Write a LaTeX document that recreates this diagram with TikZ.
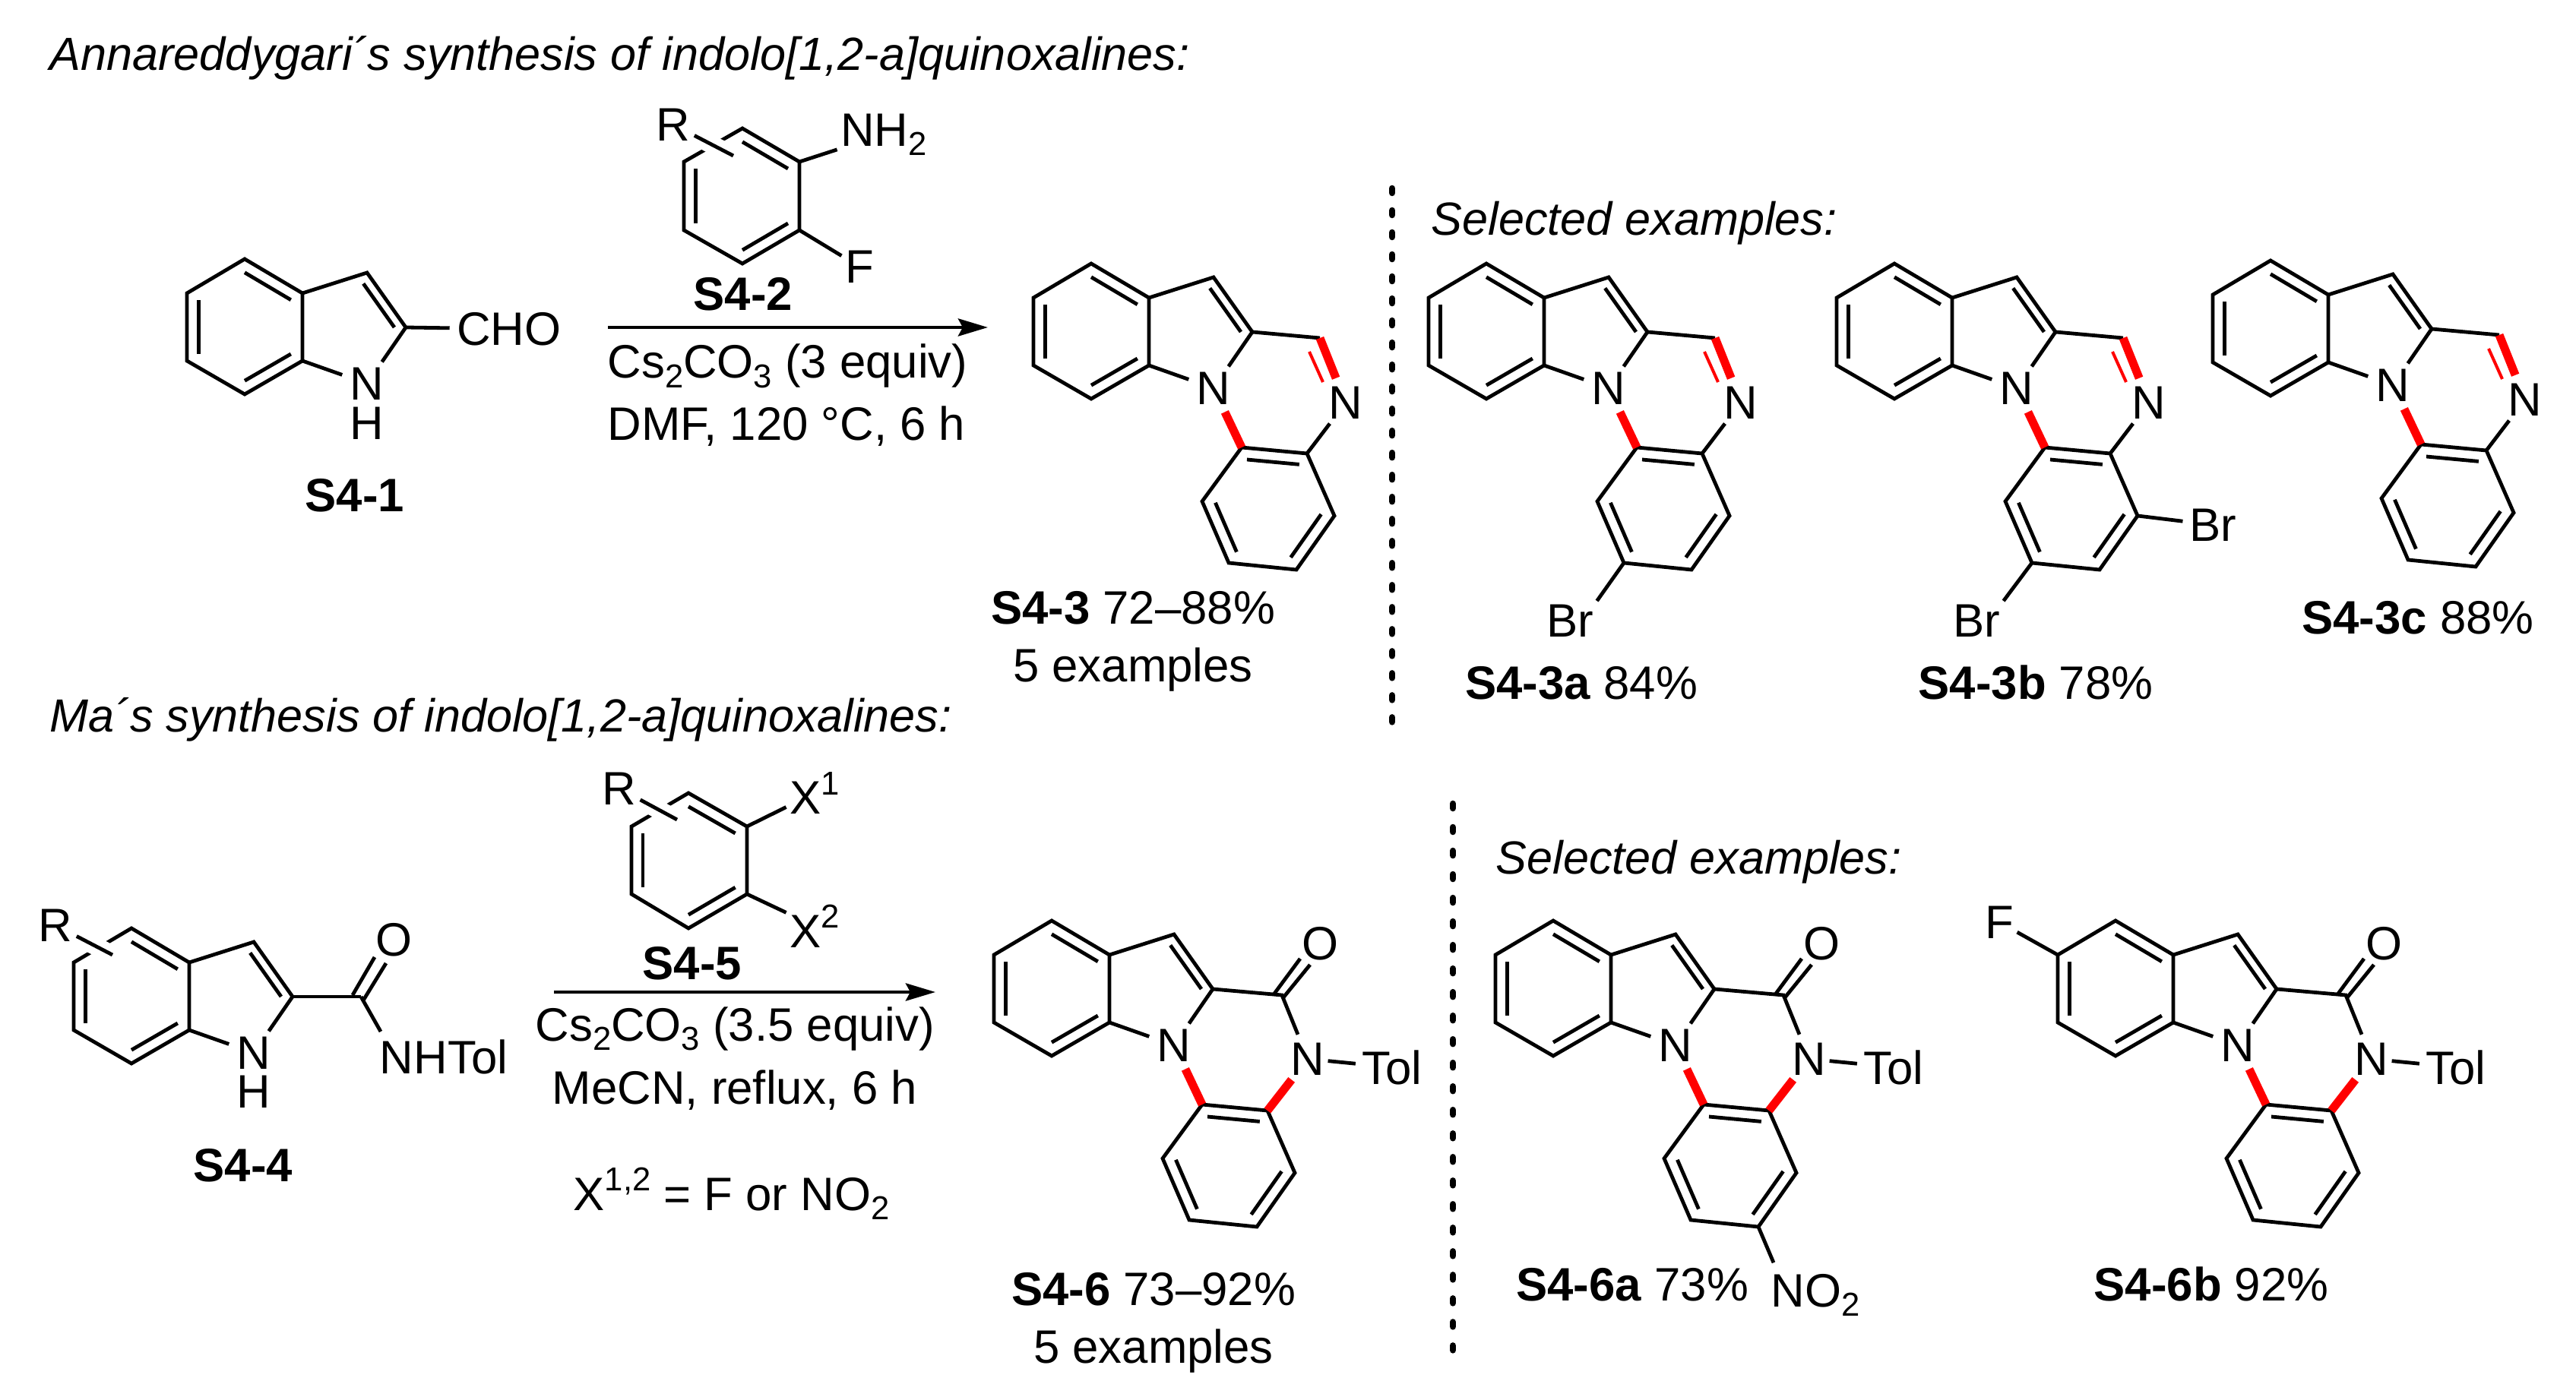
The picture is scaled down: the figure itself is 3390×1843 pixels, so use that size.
\documentclass[tikz,border=0pt]{standalone}
\usepackage{fontspec}
\setmainfont{Liberation Sans}
\usetikzlibrary{calc,arrows.meta}
\newcommand\mfs{\fontsize{17.55}{21}\selectfont}
\newcommand\tfs{\fontsize{17.4}{21}\selectfont}
\newcommand\lowp[1]{\raisebox{-0.2em}{\fontsize{12.4}{13}\selectfont #1}}
\newcommand\upp[1]{\raisebox{0.42em}{\fontsize{12.4}{13}\selectfont #1}}
\newcommand\indbl[3]{\draw[bond] ($(#1)!.2!(#3)$) -- ($(#2)!.2!(#3)$);}
\tikzset{
  bond/.style={line width=.048cm,line join=miter},
  halo/.style={line width=.24cm,draw=white},
  redbond/.style={line width=.11cm,draw=red},
  redthin/.style={line width=.04cm,draw=red},
  atom/.style={circle,inner sep=0pt,minimum size=.68cm,font=\mfs},
  lab/.style={inner sep=.04cm,font=\mfs},
  txt/.style={inner sep=0pt,font=\mfs},
  title/.style={inner sep=0pt,anchor=base west,font=\tfs\itshape},
  sepline/.style={line width=.085cm,line cap=round},
  rxn/.style={line width=.048cm,-{Stealth[length=.39cm,width=.23cm,inset=.06cm]}}
}
% fused benzene + five-membered ring
\newcommand\indolecore{%
  \coordinate (t) at (0,0); \coordinate (b2) at (76,45); \coordinate (b3) at (76,134);
  \coordinate (b4) at (0,178); \coordinate (b5) at (-76,134); \coordinate (b6) at (-76,45);
  \coordinate (c3) at (161,18); \coordinate (c2) at (212,90);
  \coordinate (bc) at (0,89); \coordinate (fc) at (137,90);
  \node[atom] (N) at (161,164) {N};
  \draw[bond] (t) -- (b2) -- (b3) -- (b4) -- (b5) -- (b6) -- cycle;
  \draw[bond] (b2) -- (c3) -- (c2) -- (N) -- (b3);
  \indbl{t}{b2}{bc}\indbl{b3}{b4}{bc}\indbl{b5}{b6}{bc}\indbl{c3}{c2}{fc}
}
\newcommand\lowerring{%
  \coordinate (q4) at (284,250); \coordinate (q9) at (198,242); \coordinate (q5) at (146,313);
  \coordinate (q6) at (181,394); \coordinate (q7) at (270,403); \coordinate (q8) at (320,332);
  \coordinate (lc) at (233,322);
  \draw[bond] (q9) -- (q5) -- (q6) -- (q7) -- (q8) -- (q4) -- cycle;
  \indbl{q9}{q4}{lc}\indbl{q5}{q6}{lc}\indbl{q7}{q8}{lc}
  \draw[redbond] (N) -- (q9);
}
\newcommand\quinoxaline{%
  \indolecore\lowerring
  \coordinate (ch) at (301,98); \coordinate (r1) at (287,116); \coordinate (r2) at (305,156);
  \node[atom] (Nb) at (335,183) {N};
  \draw[bond] (c2) -- (ch);
  \draw[bond] (q4) -- (Nb);
  \draw[redbond] (ch) -- (Nb);
  \draw[redthin] (r1) -- (r2);
}
\newcommand\lactam{%
  \indolecore\lowerring
  \coordinate (co) at (303,98); \coordinate (d1) at (293,96); \coordinate (d2) at (327,50);
  \coordinate (d3) at (305,101); \coordinate (d4) at (340,58);
  \node[atom] (O) at (353,30) {O};
  \node[atom] (Np) at (337,182) {N};
  \node[lab,inner sep=.08cm] (Tol) at (448,193) {Tol};
  \draw[bond] (c2) -- (co) -- (Np);
  \draw[bond] (d1) -- (d2); \draw[bond] (d3) -- (d4);
  \draw[bond,shorten <=-.08cm] (Np) -- (Tol);
  \draw[redbond] (Np) -- (q4);
}
\begin{document}
\begin{tikzpicture}[x=.01cm,y=-.01cm]
\fill[white] (0,0) rectangle (3390,1843);
\useasboundingbox (0,0) rectangle (3390,1843);

\node[title] (t1) at (65,93) {Annareddygari´s synthesis of indolo[1,2-a]quinoxalines:};
\node[title] (t2) at (65,963) {Ma´s synthesis of indolo[1,2-a]quinoxalines:};

% S4-1
\begin{scope}[shift={(322,341)},name prefix=a-]
  \indolecore
  \node[atom] (H) at (161,216) {H};
  \node[lab,inner sep=.09cm] (cho) at (348,92) {CHO};
  \draw[bond] (c2) -- (cho);
\end{scope}
\node[txt,anchor=base] (la) at (467,674) {\textbf{S4-1}};

% S4-2
\begin{scope}[shift={(977,169)},name prefix=b-]
  \coordinate (p1) at (0,0); \coordinate (p2) at (75,44); \coordinate (p3) at (75,134);
  \coordinate (p4) at (0,178); \coordinate (p5) at (-77,134); \coordinate (p6) at (-77,44);
  \coordinate (pc) at (0,89);
  \node[atom,minimum size=.4cm] (R) at (-91,-5) {R};
  \coordinate (re) at (-12,36);
  \node[lab] (nh) at (186,8) {NH\lowp{2}};
  \node[lab] (F) at (154,182) {F};
  \draw[bond] (p1) -- (p2) -- (p3) -- (p4) -- (p5) -- (p6) -- cycle;
  \indbl{p1}{p2}{pc}\indbl{p3}{p4}{pc}\indbl{p5}{p6}{pc}
  \draw[halo] (R) -- (re);
  \draw[bond] (R) -- (re);
  \draw[bond] (p2) -- (nh);
  \draw[bond] (p3) -- (F);
\end{scope}
\node[txt,anchor=base] (lb) at (978,409) {\textbf{S4-2}};

% reaction 1
\coordinate (r1s) at (800,431); \coordinate (r1e) at (1300,431);
\draw[rxn] (r1s) -- (r1e);
\node[txt,anchor=base west] (c1a) at (799,498) {Cs\lowp{2}CO\lowp{3} (3 equiv)};
\node[txt,anchor=base west] (c1b) at (799,580) {DMF, 120 °C, 6 h};

% S4-3
\begin{scope}[shift={(1436,347)},name prefix=c-]\quinoxaline\end{scope}
\node[txt,anchor=base] (lc3) at (1491,822) {\textbf{S4-3} 72–88\%};
\node[txt,anchor=base] (lc4) at (1491,898) {5 examples};

% separator 1
\coordinate (s1a) at (1832,248); \coordinate (s1b) at (1832,966);
\draw[sepline,dash pattern=on .06cm off .23cm] (s1a) -- (s1b);
\node[title] (se1) at (1883,310) {Selected examples:};

% S4-3a
\begin{scope}[shift={(1956,347)},name prefix=d-]\quinoxaline
  \node[lab] (Br) at (110,470) {Br};
  \draw[bond] (q6) -- (Br.north east);
\end{scope}
\node[txt,anchor=base] (ld) at (2081,920) {\textbf{S4-3a} 84\%};

% S4-3b
\begin{scope}[shift={(2493,347)},name prefix=e-]\quinoxaline
  \node[lab] (Br) at (108,470) {Br};
  \node[lab,inner sep=.08cm] (Bs) at (419,344) {Br};
  \draw[bond] (q6) -- (Br.north east);
  \draw[bond] (q8) -- (Bs);
\end{scope}
\node[txt,anchor=base] (le) at (2679,920) {\textbf{S4-3b} 78\%};

% S4-3c
\begin{scope}[shift={(2988,343)},name prefix=f-]\quinoxaline\end{scope}
\node[txt,anchor=base] (lf) at (3182,835) {\textbf{S4-3c} 88\%};

% S4-4
\begin{scope}[shift={(173,1222)},name prefix=g-]
  \indolecore
  \node[atom] (H) at (161,215) {H};
  \coordinate (co) at (302,90);
  \coordinate (d1) at (291,88); \coordinate (d2) at (320,38);
  \coordinate (d3) at (305,95); \coordinate (d4) at (335,46);
  \coordinate (re) at (-25,35);
  \coordinate (ne) at (328,136);
  \node[atom] (O) at (345,15) {O};
  \node[atom,minimum size=.4cm] (R) at (-100,-4) {R};
  \node[txt] (nt) at (411,169) {NHTol};
  \draw[bond] (c2) -- (co);
  \draw[bond] (d1) -- (d2); \draw[bond] (d3) -- (d4);
  \draw[bond] (co) -- (ne);
  \draw[halo] (R) -- (re);
  \draw[bond] (R) -- (re);
\end{scope}
\node[txt,anchor=base] (lg) at (320,1555) {\textbf{S4-4}};

% S4-5
\begin{scope}[shift={(906,1044)},name prefix=h-]
  \coordinate (p1) at (0,0); \coordinate (p2) at (77,44); \coordinate (p3) at (77,133);
  \coordinate (p4) at (0,178); \coordinate (p5) at (-75,133); \coordinate (p6) at (-75,44);
  \coordinate (pc) at (0,89);
  \node[atom,minimum size=.4cm] (R) at (-91,-6) {R};
  \coordinate (re) at (-15,35);
  \node[lab] (x1) at (166,0) {X\upp{1}};
  \node[lab] (x2) at (166,175) {X\upp{2}};
  \draw[bond] (p1) -- (p2) -- (p3) -- (p4) -- (p5) -- (p6) -- cycle;
  \indbl{p1}{p2}{pc}\indbl{p3}{p4}{pc}\indbl{p5}{p6}{pc}
  \draw[halo] (R) -- (re);
  \draw[bond] (R) -- (re);
  \draw[bond] (p2) -- (x1);
  \draw[bond] (p3) -- (x2);
\end{scope}
\node[txt,anchor=base] (lh) at (911,1289) {\textbf{S4-5}};

% reaction 2
\coordinate (r2s) at (729,1306); \coordinate (r2e) at (1231,1306);
\draw[rxn] (r2s) -- (r2e);
\node[txt,anchor=base west] (c2a) at (704,1370) {Cs\lowp{2}CO\lowp{3} (3.5 equiv)};
\node[txt,anchor=base] (c2b) at (967,1453) {MeCN, reflux, 6 h};
\node[txt,anchor=base west] (c2c) at (754,1593) {X\upp{1,2} = F or NO\lowp{2}};

% S4-6
\begin{scope}[shift={(1384,1212)},name prefix=i-]\lactam\end{scope}
\node[txt,anchor=base] (li) at (1518,1718) {\textbf{S4-6} 73–92\%};
\node[txt,anchor=base] (lj) at (1518,1794) {5 examples};

% separator 2
\coordinate (s2a) at (1912,1058); \coordinate (s2b) at (1912,1780);
\draw[sepline,dash pattern=on .06cm off .25cm] (s2a) -- (s2b);
\node[title] (se2) at (1968,1150) {Selected examples:};

% S4-6a
\begin{scope}[shift={(2044,1212)},name prefix=k-]\lactam
  \node[txt,anchor=base west] (no) at (286,508) {NO\lowp{2}};
  \draw[bond] (q7) -- ([shift={(4,-14)}]no.north west);
\end{scope}
\node[txt,anchor=base] (lk) at (2148,1712) {\textbf{S4-6a} 73\%};

% S4-6b
\begin{scope}[shift={(2784,1212)},name prefix=m-]\lactam
  \node[lab] (Fl) at (-153,2) {F};
  \draw[bond] (b6) -- (Fl);
\end{scope}
\node[txt,anchor=base] (lm) at (2910,1712) {\textbf{S4-6b} 92\%};
\end{tikzpicture}
\end{document}
